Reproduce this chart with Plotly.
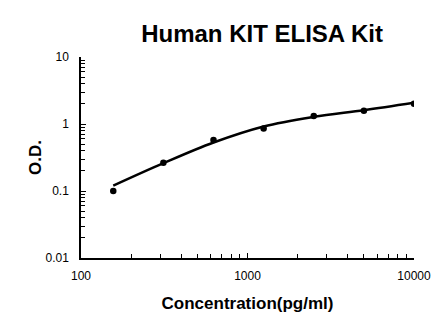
import plotly.graph_objects as go

concentration = [156.25, 312.5, 625, 1250, 2500, 5000, 10000]
od_measured = [0.10, 0.265, 0.575, 0.86, 1.32, 1.57, 2.0]
od_fitted = [0.12, 0.26, 0.53, 0.92, 1.28, 1.61, 2.08]

x_tickvals = [100, 1000, 10000]
x_ticktext = ["100", "1000", "10000"]
y_tickvals = [0.01, 0.1, 1, 10]
y_ticktext = ["0.01", "0.1", "1", "10"]

fig = go.Figure()
fig.add_trace(go.Scatter(x=concentration, y=od_fitted, mode="lines",
                         line=dict(color="black", width=2.5, shape="spline", smoothing=1.0),
                         hoverinfo="skip", showlegend=False))
fig.add_trace(go.Scatter(x=concentration, y=od_measured, mode="markers",
                         marker=dict(color="black", size=6.5), showlegend=False))

font = "Liberation Sans, Arial, sans-serif"
fig.update_layout(
    width=448, height=331,
    margin=dict(l=81, r=34, t=57, b=73),
    paper_bgcolor="white", plot_bgcolor="white",
    font=dict(family=font, color="black"),
    title=dict(text="<b>Human KIT ELISA Kit</b>", font=dict(size=24, family=font, color="black"),
               x=0.585, xanchor="center", y=0.9, yanchor="middle"),
)
fig.update_xaxes(type="log", range=[2, 4], tickvals=x_tickvals, ticktext=x_ticktext,
                 showline=True, linecolor="black", linewidth=1.5, mirror=False,
                 ticks="inside", ticklen=5, tickcolor="black", tickwidth=1,
                 minor=dict(ticks="inside", ticklen=4, tickcolor="black", dtick="D1", showgrid=False),
                 showgrid=False, zeroline=False, ticklabelstandoff=6,
                 tickfont=dict(size=12, family=font, color="black"),
                 title=dict(text="<b>Concentration(pg/ml)</b>", font=dict(size=17, family=font, color="black"), standoff=15))
fig.update_yaxes(type="log", range=[-2, 1], tickvals=y_tickvals, ticktext=y_ticktext,
                 showline=True, linecolor="black", linewidth=1.5, mirror=False,
                 ticks="inside", ticklen=5, tickcolor="black", tickwidth=1,
                 minor=dict(ticks="inside", ticklen=4, tickcolor="black", dtick="D1", showgrid=False),
                 showgrid=False, zeroline=False, ticklabelstandoff=8,
                 tickfont=dict(size=12, family=font, color="black"),
                 title=dict(text="<b>O.D.</b>", font=dict(size=17, family=font, color="black"), standoff=0))

fig.write_html("out.html")
